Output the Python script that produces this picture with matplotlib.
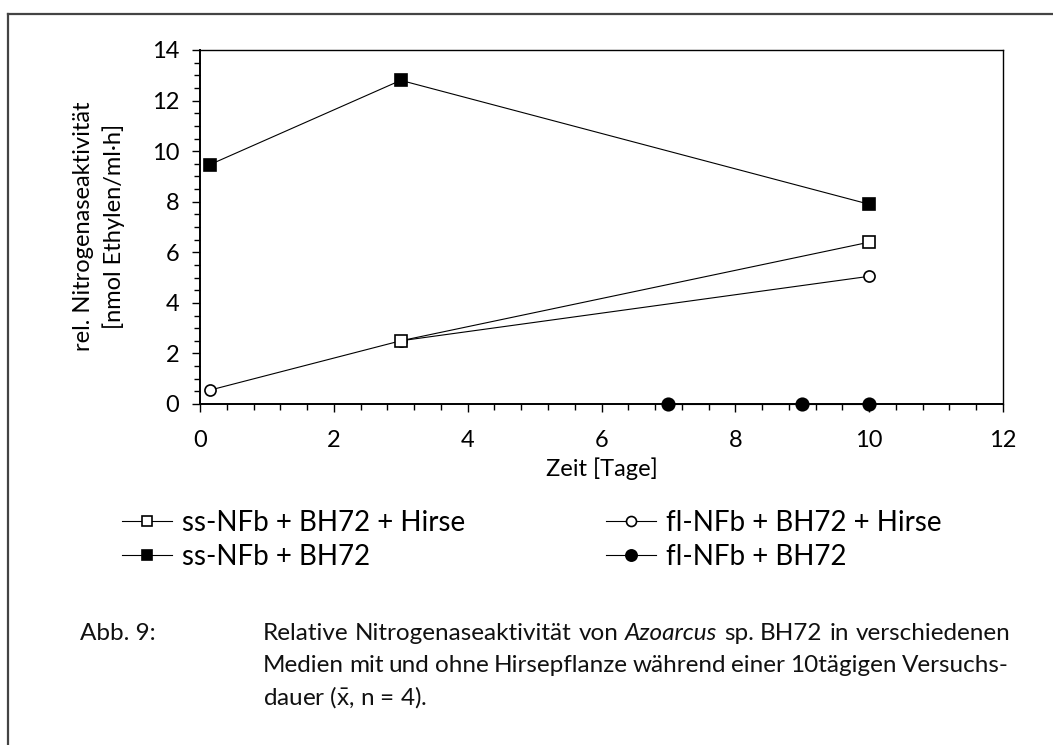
import matplotlib
matplotlib.use('Agg')
import matplotlib.pyplot as plt
from matplotlib.lines import Line2D
from matplotlib.ticker import MultipleLocator

plt.rcParams['font.family'] = ['Lato', 'DejaVu Sans']
plt.rcParams['mathtext.fontset'] = 'custom'
plt.rcParams['mathtext.rm'] = 'Lato'
plt.rcParams['mathtext.it'] = 'Lato:italic'

# data (Zeit in Tagen, rel. Nitrogenaseaktivitaet)
x_ss_hirse = [3, 10]
y_ss_hirse = [2.5, 6.4]
x_ss = [0.15, 3, 10]
y_ss = [9.47, 12.8, 7.9]
x_fl_hirse = [0.15, 3, 10]
y_fl_hirse = [0.55, 2.5, 5.05]
x_fl = [7, 9, 10]
y_fl = [0, 0, 0]

labels = ['ss-NFb + BH72 + Hirse', 'ss-NFb + BH72',
          'fl-NFb + BH72 + Hirse', 'fl-NFb + BH72']

W, H = 1053, 745
fig = plt.figure(figsize=(W / 100, H / 100), dpi=100)
ax = fig.add_axes([200 / W, 1 - 404 / H, 803 / W, 354 / H])

lw = 0.8
mew = 1.2
l1, = ax.plot(x_ss_hirse, y_ss_hirse, color='black', lw=lw, marker='s', ms=8,
              mfc='white', mec='black', mew=mew, zorder=4)
l2, = ax.plot(x_ss, y_ss, color='black', lw=lw, marker='s', ms=8.5,
              mfc='black', mec='black', mew=mew, zorder=3)
l3, = ax.plot(x_fl_hirse, y_fl_hirse, color='black', lw=lw, marker='o', ms=8,
              mfc='white', mec='black', mew=mew, zorder=3)
l4, = ax.plot(x_fl, y_fl, color='black', lw=lw, marker='o', ms=9,
              mfc='black', mec='black', mew=mew, zorder=5, clip_on=False)

ax.set_xlim(0, 12)
ax.set_ylim(0, 14)
ax.xaxis.set_major_locator(MultipleLocator(2))
ax.xaxis.set_minor_locator(MultipleLocator(0.4))
ax.yaxis.set_major_locator(MultipleLocator(2))
ax.yaxis.set_minor_locator(MultipleLocator(0.5))
ax.tick_params(which='both', direction='out', width=1.0, color='black')
ax.tick_params(which='major', length=6)
ax.tick_params(which='minor', length=4.5)
ax.tick_params(axis='x', which='major', labelsize=17, pad=13)
ax.tick_params(axis='y', which='major', labelsize=17, pad=9)
for s in ax.spines.values():
    s.set_linewidth(1.0)
ax.spines['left'].set_linewidth(1.4)
ax.spines['bottom'].set_linewidth(1.4)

ax.set_xlabel('Zeit [Tage]', fontsize=17, labelpad=4)
fig.text(99 / W, 1 - 226 / H, 'rel. Nitrogenaseaktivität\n[nmol Ethylen/ml·h]',
         rotation=90, ha='center', va='center', multialignment='center',
         fontsize=17, linespacing=1.4)

# legend in two columns
leg_kw = dict(frameon=False, fontsize=20, handlelength=1.8, handletextpad=0.35,
              labelspacing=0.28, borderpad=0, borderaxespad=0, markerscale=0.9,
              loc='upper left', bbox_transform=fig.transFigure)
leg1 = fig.legend([l1, l2], labels[:2], bbox_to_anchor=(122 / W, 1 - 510 / H), **leg_kw)
leg2 = fig.legend([l3, l4], labels[2:], bbox_to_anchor=(606 / W, 1 - 510 / H), **leg_kw)

# frame around the figure (top and left)
fig.add_artist(Line2D([8 / W, 1], [1 - 14 / H, 1 - 14 / H], transform=fig.transFigure,
                      color='#444444', lw=1.6))
fig.add_artist(Line2D([8 / W, 8 / W], [0, 1 - 14 / H], transform=fig.transFigure,
                      color='#444444', lw=1.6))

# caption
cap_fs = 17.5
renderer = fig.canvas.get_renderer()


def justified_line(words, ypix, x0, x1, justify=True):
    texts = []
    for w, style in words:
        texts.append(fig.text(0, 1 - ypix / H, w, fontsize=cap_fs, style=style,
                              ha='left', va='center', color='#111111'))
    widths = [t.get_window_extent(renderer).width for t in texts]
    if justify and len(words) > 1:
        gap = (x1 - x0 - sum(widths)) / (len(words) - 1)
    else:
        gap = cap_fs * 0.3
    x = x0
    for t, w in zip(texts, widths):
        t.set_x(x / W)
        x += w + gap


fig.text(80 / W, 1 - 633 / H, 'Abb. 9:', fontsize=cap_fs, ha='left', va='center',
         color='#111111')
line1 = [('Relative', 'normal'), ('Nitrogenaseaktivität', 'normal'), ('von', 'normal'),
         ('Azoarcus', 'italic'), ('sp.', 'normal'), ('BH72', 'normal'), ('in', 'normal'),
         ('verschiedenen', 'normal')]
line2 = [('Medien', 'normal'), ('mit', 'normal'), ('und', 'normal'), ('ohne', 'normal'),
         ('Hirsepflanze', 'normal'), ('während', 'normal'), ('einer', 'normal'),
         ('10tägigen', 'normal'), ('Versuchs-', 'normal')]
justified_line(line1, 633, 263, 1010)
justified_line(line2, 665, 263, 1009)
fig.text(263 / W, 1 - 697 / H, r'dauer ($\bar{\mathrm{x}}$, n = 4).', fontsize=cap_fs,
         ha='left', va='center', color='#111111')

fig.savefig('out.png', dpi=100)
